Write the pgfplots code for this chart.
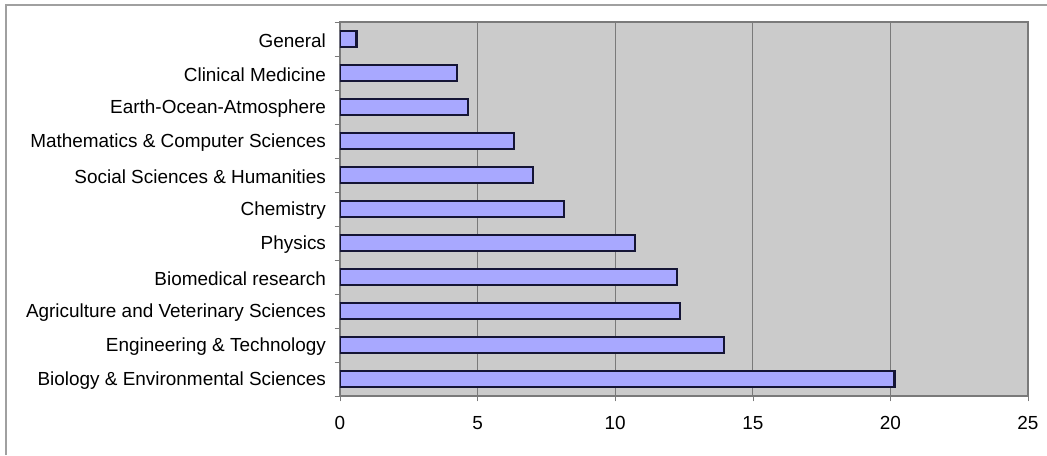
\documentclass[border=0pt]{standalone}
\usepackage{pgfplots}
\pgfplotsset{compat=1.18}
\usepackage{fontspec}
\setmainfont{Liberation Sans}
\definecolor{plotbg}{HTML}{CBCBCB}
\definecolor{barfill}{HTML}{A8A8FF}
\definecolor{barline}{HTML}{151535}
\definecolor{gridc}{HTML}{7A7A7A}
\definecolor{framec}{HTML}{A0A0A0}
\begin{document}
\begin{tikzpicture}
\path[use as bounding box] (0,0) rectangle (785.25pt,341.25pt);
\fill[white] (0,0) rectangle (785.25pt,341.25pt);
\draw[framec, line width=0.9pt] (4.5pt,0) -- (4.5pt,337.5pt) -- (785.25pt,337.5pt);
\begin{axis}[
  at={(255pt,44.25pt)}, anchor=south west,
  scale only axis, width=516pt, height=280.5pt,
  xbar, bar width=11.6pt,
  xmin=0, xmax=25, ymin=-0.5, ymax=10.5,
  xtick={0,5,10,15,20,25},
  ytick={0,...,10},
  minor ytick={-0.5,0.5,...,10.5},
  yticklabels={Biology \& Environmental Sciences, Engineering \& Technology, Agriculture and Veterinary Sciences, Biomedical research, Physics, Chemistry, Social Sciences \& Humanities, Mathematics \& Computer Sciences, Earth-Ocean-Atmosphere, Clinical Medicine, General},
  tick label style={font=\fontsize{14.2}{17}\selectfont},
  /pgf/number format/assume math mode=true,
  ytick pos=left, xtick pos=bottom,
  tick align=outside,
  major y tick style={draw=none},
  minor tick length=4pt,
  major tick length=4pt,
  minor y tick style={gridc},
  major x tick style={gridc},
  yticklabel style={xshift=-3pt, yshift=-1.5pt},
  xticklabel style={yshift=-8pt},
  xmajorgrids, major grid style={gridc, line width=0.8pt},
  axis line style={gridc, line width=0.9pt},
  axis background/.style={fill=plotbg},
]
\addplot[fill=barfill, draw=barline, line width=1.6pt] coordinates {
(20.15,0) (13.95,1) (12.35,2) (12.24,3) (10.72,4) (8.14,5) (7.02,6) (6.33,7) (4.64,8) (4.24,9) (0.6,10)
};
\end{axis}
\end{tikzpicture}
\end{document}
